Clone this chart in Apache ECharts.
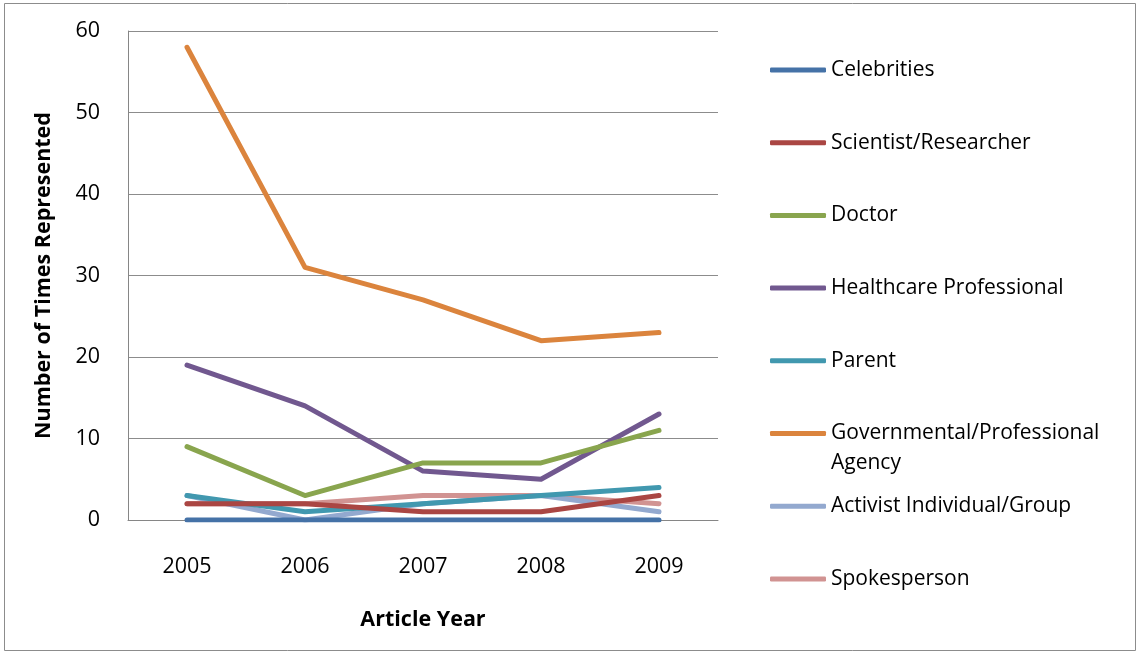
<!doctype html>
<html lang="en">
  <head>
    <meta charset="utf-8">
    <title>Number of Times Represented</title>
    <script src="https://cdn.jsdelivr.net/npm/echarts@6/dist/echarts.min.js"></script>
    <style>
      html, body { margin: 0; padding: 0; background: #fff; }
      #container { width: 1139px; height: 655px; }
    </style>
  </head>
  <body>
    <div id="container"></div>
    <script type="text/javascript">
      // article years
      var years = ['2005', '2006', '2007', '2008', '2009'];

      // values
      var celebrities = [0, 0, 0, 0, 0];
      var scientist = [2, 2, 1, 1, 3];
      var doctor = [9, 3, 7, 7, 11];
      var healthcare = [19, 14, 6, 5, 13];
      var parent = [3, 1, 2, 3, 4];
      var governmental = [58, 31, 27, 22, 23];
      var activist = [3, 0, 2, 3, 1];
      var spokesperson = [2, 2, 3, 3, 2];

      var names = ['Celebrities', 'Scientist/Researcher', 'Doctor', 'Healthcare Professional',
                   'Parent', 'Governmental/Professional Agency', 'Activist Individual/Group', 'Spokesperson'];
      var values = [celebrities, scientist, doctor, healthcare, parent, governmental, activist, spokesperson];
      var colors = ['#4572A7', '#AA4643', '#89A54E', '#71588F', '#4198AF', '#DB843D', '#93A9CF', '#D19392'];

      var font = '"Open Sans", "Liberation Sans", sans-serif';

      var dom = document.getElementById('container');
      var myChart = echarts.init(dom);

      // one legend per entry so the rows keep Excel's even spacing
      var legends = names.map(function (name, i) {
        var two = name.indexOf('Agency') > 0;
        var center = 69.5 + i * 72.7;
        return {
          orient: 'vertical',
          left: 765,
          top: two ? center - 45 : center - 15,
          icon: 'roundRect',
          itemWidth: 56,
          itemHeight: 5,
          itemGap: 0,
          selectedMode: false,
          data: [name],
          formatter: function (n) {
            if (two) return '{pad|}\n{t|Governmental/Professional}\n{t|Agency}';
            return '{t|' + n + '}';
          },
          textStyle: {
            rich: {
              t: { fontFamily: font, fontSize: 21, color: '#000', lineHeight: 30 },
              pad: { fontSize: 21, lineHeight: 30 }
            }
          }
        };
      });

      var series = names.map(function (name, i) {
        return {
          name: name,
          type: 'line',
          data: values[i],
          showSymbol: false,
          symbol: 'none',
          color: colors[i],
          lineStyle: { width: 5, color: colors[i], cap: 'round', join: 'round' },
          z: 10 - i
        };
      });

      var option = {
        animation: false,
        legend: legends,
        graphic: [{
          type: 'rect',
          shape: { x: 4.5, y: 3.5, width: 1131, height: 647 },
          style: { fill: 'none', stroke: '#8c8c8c', lineWidth: 1 }
        }],
        grid: { left: 128, right: 421, top: 31, bottom: 135 },
        xAxis: {
          type: 'category',
          data: years,
          boundaryGap: true,
          name: 'Article Year',
          nameLocation: 'middle',
          nameGap: 89,
          nameTextStyle: { fontFamily: font, fontSize: 21.5, fontWeight: 'bold', color: '#000' },
          axisLine: { lineStyle: { color: '#868686', width: 1 } },
          axisTick: { show: false },
          axisLabel: { fontFamily: font, fontSize: 21.5, color: '#000', margin: 36 }
        },
        yAxis: {
          type: 'value',
          min: 0,
          max: 60,
          interval: 10,
          name: 'Number of Times Represented',
          nameLocation: 'middle',
          nameGap: 73,
          nameTextStyle: { fontFamily: font, fontSize: 21.5, fontWeight: 'bold', color: '#000' },
          axisLine: { show: true, lineStyle: { color: '#868686', width: 1 } },
          axisTick: { show: false },
          splitLine: { lineStyle: { color: '#8c8c8c', width: 1 } },
          axisLabel: { fontFamily: font, fontSize: 21.5, color: '#000', margin: 28 }
        },
        series: series
      };

      myChart.setOption(option, true);
    </script>
  </body>
</html>
